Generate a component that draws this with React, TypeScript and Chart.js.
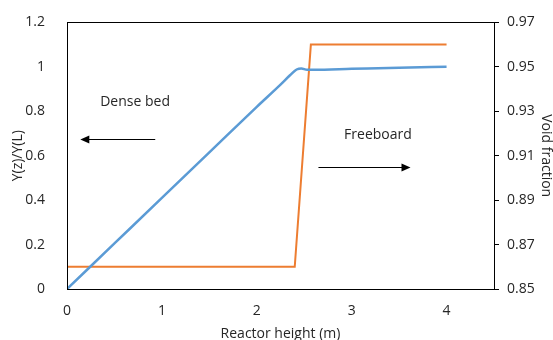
import React, { useEffect, useRef } from "react";
import { Chart, registerables } from "chart.js";

Chart.register(...registerables);

// Reactor height (m) and Y(z)/Y(L)
const heights = [0, 0.5, 1, 1.5, 2, 2.25, 2.35, 2.42, 2.47, 2.53, 2.6, 3, 3.5, 4];
const yRatio = [0, 0.205, 0.41, 0.615, 0.82, 0.92, 0.962, 0.988, 0.993, 0.987, 0.987, 0.991, 0.996, 1.0];

// Void fraction vs reactor height
const voidHeights = [0, 2.4, 2.57, 4];
const voidFraction = [0.86, 0.86, 0.96, 0.96];

const xTicks = [0, 1, 2, 3, 4];
const leftTicks = [0, 0.2, 0.4, 0.6, 0.8, 1, 1.2];
const rightTicks = [0.85, 0.87, 0.89, 0.91, 0.93, 0.95, 0.97];

const FONT = "'Open Sans', sans-serif";
const SIZE = 14;
const TEXT = "#262626";

const annotations = [
  { text: "Dense bed", x: 0.35, y: 0.843, arrowFrom: 0.93, arrowTo: 0.14, arrowY: 0.675 },
  { text: "Freeboard", x: 2.92, y: 0.694, arrowFrom: 2.65, arrowTo: 3.62, arrowY: 0.55 },
];

const fmt = (v: any) => String(Number(v));

const framePlugin = {
  id: "frame",
  afterDatasetsDraw(chart: any) {
    const { ctx, chartArea } = chart;
    ctx.save();
    ctx.strokeStyle = "#000000";
    ctx.lineWidth = 1;
    ctx.strokeRect(
      Math.round(chartArea.left) + 0.5,
      Math.round(chartArea.top) + 0.5,
      Math.round(chartArea.right - chartArea.left),
      Math.round(chartArea.bottom - chartArea.top)
    );
    const xs = chart.scales.x;
    const ys = chart.scales.y;
    ctx.font = `${SIZE}px ${FONT}`;
    ctx.textBaseline = "middle";
    ctx.textAlign = "left";
    for (const a of annotations) {
      ctx.fillStyle = TEXT;
      ctx.fillText(a.text, xs.getPixelForValue(a.x), ys.getPixelForValue(a.y));
      const x1 = xs.getPixelForValue(a.arrowFrom);
      const x2 = xs.getPixelForValue(a.arrowTo);
      const y = Math.round(ys.getPixelForValue(a.arrowY)) + 0.5;
      const dir = Math.sign(x2 - x1);
      ctx.strokeStyle = "#000000";
      ctx.lineWidth = 1;
      ctx.beginPath();
      ctx.moveTo(x1, y);
      ctx.lineTo(x2 - dir * 8, y);
      ctx.stroke();
      ctx.fillStyle = "#000000";
      ctx.beginPath();
      ctx.moveTo(x2, y);
      ctx.lineTo(x2 - dir * 9, y - 4);
      ctx.lineTo(x2 - dir * 9, y + 4);
      ctx.closePath();
      ctx.fill();
    }
    ctx.restore();
  },
};

export default function App() {
  const ref = useRef<HTMLCanvasElement>(null);
  useEffect(() => {
    document.body.style.margin = "0";
    const chart = new Chart(ref.current!, {
      type: "scatter",
      data: {
        datasets: [
          {
            label: "Y(z)/Y(L)",
            data: heights.map((h, i) => ({ x: h, y: yRatio[i] })),
            showLine: true,
            borderColor: "#5B9BD5",
            backgroundColor: "#5B9BD5",
            borderWidth: 2.5,
            pointRadius: 0,
            cubicInterpolationMode: "monotone",
            yAxisID: "y",
          },
          {
            label: "Void fraction",
            data: voidHeights.map((h, i) => ({ x: h, y: voidFraction[i] })),
            showLine: true,
            borderColor: "#ED7D31",
            backgroundColor: "#ED7D31",
            borderWidth: 2,
            pointRadius: 0,
            tension: 0,
            yAxisID: "y1",
          },
        ],
      },
      options: {
        responsive: false,
        animation: false,
        layout: { padding: { top: 17, left: 0, right: 0, bottom: 0 } },
        plugins: { legend: { display: false }, tooltip: { enabled: false } },
        scales: {
          x: {
            type: "linear",
            min: 0,
            max: 4.5,
            afterBuildTicks: (s: any) => {
              s.ticks = xTicks.map((v) => ({ value: v }));
            },
            afterFit: (s: any) => {
              s.height = 51;
            },
            grid: { display: false },
            border: { display: false },
            ticks: { padding: 6, color: TEXT, font: { family: FONT, size: SIZE }, maxRotation: 0, callback: fmt },
            title: {
              display: true,
              text: "Reactor height (m)",
              color: TEXT,
              font: { family: FONT, size: SIZE, lineHeight: 1 },
              padding: { top: 0, bottom: -1 },
            },
          },
          y: {
            type: "linear",
            position: "left",
            min: 0,
            max: 1.2,
            afterBuildTicks: (s: any) => {
              s.ticks = leftTicks.map((v) => ({ value: v }));
            },
            afterFit: (s: any) => {
              s.width = 67;
            },
            grid: { display: false },
            border: { display: false },
            ticks: { padding: 14, color: TEXT, font: { family: FONT, size: SIZE }, callback: fmt },
            title: {
              display: true,
              text: "Y(z)/Y(L)",
              color: TEXT,
              font: { family: FONT, size: SIZE, lineHeight: 1.2 },
              padding: { top: 10, bottom: 0 },
            },
          },
          y1: {
            type: "linear",
            position: "right",
            min: 0.85,
            max: 0.97,
            afterBuildTicks: (s: any) => {
              s.ticks = rightTicks.map((v) => ({ value: v }));
            },
            afterFit: (s: any) => {
              s.width = 59;
            },
            grid: { display: true, drawOnChartArea: false, drawTicks: true, tickLength: 5, color: "#000000" },
            border: { display: false },
            ticks: { padding: 8, color: TEXT, font: { family: FONT, size: SIZE }, callback: fmt },
            title: {
              display: true,
              text: "Void fraction",
              color: TEXT,
              font: { family: FONT, size: SIZE, lineHeight: 1 },
              padding: { top: 0, bottom: 0 },
            },
          },
        },
      },
      plugins: [framePlugin],
    } as any);
    return () => chart.destroy();
  }, []);
  return (
    <div style={{ position: "absolute", left: 0, top: 0, width: 553, height: 340 }}>
      <canvas ref={ref} width={553} height={340} />
    </div>
  );
}
